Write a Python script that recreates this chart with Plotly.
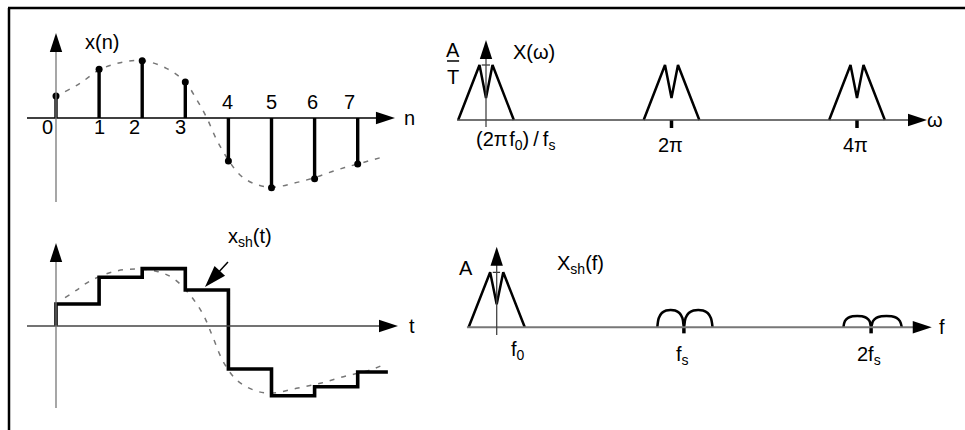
import plotly.graph_objects as go

W, H = 965, 430
FONT = "Liberation Sans, Arial, sans-serif"

# ---- sampled sequence x(n) ----
n_idx = [0, 1, 2, 3, 4, 5, 6, 7]
x_n = [0.314, 0.696, 0.819, 0.514, -0.614, -0.996, -0.867, -0.657]

# underlying analog signal (dashed), upper-left panel
cont_n = [0.21, 0.56, 1.0, 1.49, 2.01, 2.56, 2.99, 3.27, 3.50, 3.73, 4.0,
          4.27, 4.58, 5.0, 5.51, 5.99, 6.51, 7.0, 7.67]
cont_x = [0.376, 0.496, 0.686, 0.79, 0.819, 0.71, 0.519, 0.257, 0.0, -0.314,
          -0.6, -0.814, -0.933, -0.99, -0.933, -0.853, -0.743, -0.657, -0.543]

# analog signal behind the sample-and-hold output, lower-left panel
cont_t = [0.21, 0.48, 0.79, 1.33, 1.87, 2.37, 2.72, 3.11, 3.42, 3.65, 3.88,
          4.19, 4.58, 4.97, 5.58, 6.13, 6.67, 7.29, 7.67]
cont_xt = [0.404, 0.514, 0.643, 0.776, 0.814, 0.776, 0.681, 0.443, 0.157,
           -0.176, -0.51, -0.771, -0.914, -0.961, -0.89, -0.819, -0.724,
           -0.629, -0.533]
hold_end = 7.70

# ---- spectrum of the sampled sequence X(omega), omega in units of pi ----
omega_centers = [0, 2, 4]
lobe_dw = [-0.30, -0.07, 0.0, 0.07, 0.30]
lobe_amp = [0.0, 1.0, 0.4, 1.0, 0.0]
omega_ticks = [2, 4]
omega_tick_text = ["2\u03c0", "4\u03c0"]

# ---- spectrum of the held signal X_sh(f), f in units of fs ----
base_df = [-0.15, -0.035, 0.0, 0.035, 0.15]
base_amp = [0.0, 1.0, 0.418, 1.0, 0.0]
img1_f = [0.858, 0.866, 0.882, 0.905, 0.929, 0.953, 0.976, 0.992, 1.0,
          1.009, 1.026, 1.051, 1.077, 1.102, 1.127, 1.144, 1.153]
img1_a = [0.0, 0.17, 0.26, 0.305, 0.313, 0.305, 0.26, 0.17, 0.0,
          0.17, 0.26, 0.305, 0.313, 0.305, 0.26, 0.17, 0.0]
img2_f = [1.852, 1.86, 1.877, 1.901, 1.926, 1.951, 1.975, 1.992, 2.0,
          2.01, 2.028, 2.055, 2.082, 2.109, 2.136, 2.154, 2.164]
img2_a = [0.0, 0.112, 0.172, 0.201, 0.207, 0.201, 0.172, 0.112, 0.0,
          0.112, 0.172, 0.201, 0.207, 0.201, 0.172, 0.112, 0.0]
f_ticks = [1, 2]
f_tick_text = ["f<sub>s</sub>", "2f<sub>s</sub>"]


def frame(px0, px1, py0, py1, ox, oy, sx, sy):
    """Pixel box + origin/scale -> axis domains and ranges."""
    return dict(
        xd=[px0 / W, px1 / W], yd=[1 - py1 / H, 1 - py0 / H],
        xr=[(px0 - ox) / sx, (px1 - ox) / sx],
        yr=[(oy - py1) / sy, (oy - py0) / sy],
    )


panels = [
    frame(15, 425, 20, 212, 56, 118, 43.1, 70),        # x(n)
    frame(15, 425, 222, 420, 56, 326, 43.1, 70),       # x_sh(t)
    frame(440, 960, 20, 205, 486, 120, 92.75, 55),     # X(omega)
    frame(440, 960, 222, 420, 496.7, 327.3, 187.2, 55),  # X_sh(f)
]

fig = go.Figure()


def ref(k):
    return ("x", "y") if k == 1 else (f"x{k}", f"y{k}")


def add(trace, k):
    xr, yr = ref(k)
    trace.update(xaxis=xr, yaxis=yr, showlegend=False, hoverinfo="skip",
                 cliponaxis=False)
    fig.add_trace(trace)


def arrow(k, x0, y0, x1, y1, color, width, head=20):
    """Line from (x0, y0) with a filled arrowhead at (x1, y1)."""
    add(go.Scatter(x=[x0, x1], y=[y0, y1], mode="lines+markers",
                   line=dict(color=color, width=width),
                   marker=dict(symbol="arrow", size=[0, head],
                               angleref="previous", color="black",
                               opacity=1, line=dict(width=0))), k)


# panel 1: discrete samples
add(go.Scatter(x=cont_n, y=cont_x, mode="lines", line_shape="spline",
               line=dict(color="#777", width=1.5, dash="5px,7px")), 1)
sx, sy = [], []
for n, v in zip(n_idx, x_n):
    sx += [n, n, None]
    sy += [0, v, None]
add(go.Scatter(x=sx, y=sy, mode="lines", line=dict(color="black", width=3.4)), 1)
add(go.Scatter(x=n_idx, y=x_n, mode="markers",
               marker=dict(color="black", size=7)), 1)

# panel 2: zero-order hold staircase
add(go.Scatter(x=cont_t, y=cont_xt, mode="lines", line_shape="spline",
               line=dict(color="#777", width=1.5, dash="5px,7px")), 2)
add(go.Scatter(x=[0] + n_idx + [hold_end], y=[0] + x_n + [x_n[-1]],
               mode="lines", line_shape="hv",
               line=dict(color="black", width=3.6)), 2)

# panel 3: periodic spectrum
mx, my = [], []
for c in omega_centers:
    mx += [c + d for d in lobe_dw] + [None]
    my += lobe_amp + [None]
add(go.Scatter(x=mx, y=my, mode="lines", line=dict(color="black", width=2.5)), 3)
tx, ty = [], []
for t in omega_ticks:
    tx += [t, t, None]
    ty += [0, -0.145, None]
add(go.Scatter(x=tx, y=ty, mode="lines", line=dict(color="black", width=3.5)), 3)
add(go.Scatter(x=[-0.046, 0.043], y=[1.0, 1.0], mode="lines",
               line=dict(color="black", width=1)), 3)

# panel 4: held-signal spectrum
add(go.Scatter(x=base_df, y=base_amp, mode="lines",
               line=dict(color="black", width=2.5)), 4)
add(go.Scatter(x=img1_f, y=img1_a, mode="lines", line_shape="spline",
               line=dict(color="black", width=2.5)), 4)
add(go.Scatter(x=img2_f, y=img2_a, mode="lines", line_shape="spline",
               line=dict(color="black", width=2.5)), 4)
tx, ty = [], []
for t in f_ticks:
    tx += [t, t, None]
    ty += [0, -0.11, None]
add(go.Scatter(x=tx, y=ty, mode="lines", line=dict(color="black", width=3.5)), 4)
add(go.Scatter(x=[-0.021, 0.018], y=[1.0, 1.0], mode="lines",
               line=dict(color="black", width=1)), 4)

# ---- axes, arrows and labels ----
ann = []


def label(k, x, y, text, size=20, xanchor="center"):
    xr, yr = ref(k)
    ann.append(dict(x=x, y=y, xref=xr, yref=yr, text=text, showarrow=False,
                    xanchor=xanchor, yanchor="middle",
                    font=dict(family=FONT, size=size, color="black")))


# panel 1 axes
arrow(1, -0.673, 0, 7.865, 0, "black", 1.5)
arrow(1, 0, -1.2, 0, 1.214, "#777", 1.3)
label(1, 1.067, 1.086, "x(n)")
label(1, 8.21, 0.0, "n")
below_pos = [-0.186, 1.0, 1.83, 2.88]
above_pos = [3.99, 4.99, 5.94, 6.82]
for p, n in zip(below_pos, n_idx[:4]):
    label(1, p, -0.13, str(n))
for p, n in zip(above_pos, n_idx[4:]):
    label(1, p, 0.23, str(n))

# panel 2 axes
arrow(2, -0.673, 0, 7.935, 0, "#444", 1.5)
arrow(2, 0, -1.171, 0, 1.186, "#777", 1.3)
label(2, 8.26, 0.0, "t")
label(2, 4.5, 1.27, "x<sub>sh</sub>(t)")
arrow(2, 3.99, 0.914, 3.457, 0.557, "black", 1.5, head=23)

# panel 3 axes
arrow(3, -0.313, 0, 4.755, 0, "#444", 1.5)
arrow(3, 0, -0.127, 0, 1.455, "#444", 1.3)
label(3, 4.84, 0.0, "\u03c9")
label(3, -0.356, 1.273, "A")
label(3, -0.356, 0.782, "T")
label(3, 0.518, 1.236, "X(\u03c9)")
label(3, 0.323, -0.364,
      "(2\u03c0\u200af<sub>0</sub>)\u2009/\u2009f<sub>s</sub>")
for p, t in zip(omega_ticks, omega_tick_text):
    label(3, p - 0.016, -0.455, t)

# panel 4 axes
arrow(4, -0.159, 0, 2.324, 0, "#777", 2)
arrow(4, 0, -0.14, 0, 1.465, "#444", 1.3)
label(4, 2.379, 0.0, "f")
label(4, -0.164, 1.078, "A")
label(4, 0.45, 1.133, "X<sub>sh</sub>(f)")
label(4, 0.114, -0.413, "f<sub>0</sub>")
for p, t in zip(f_ticks, f_tick_text):
    label(4, p - 0.01, -0.505, t)

layout = dict(
    width=W, height=H, margin=dict(l=0, r=0, t=0, b=0),
    paper_bgcolor="white", plot_bgcolor="rgba(0,0,0,0)",
    annotations=ann, showlegend=False,
    shapes=[
        # outer frame
        dict(type="line", xref="paper", yref="paper", x0=8 / W, x1=1,
             y0=1 - 8 / H, y1=1 - 8 / H, line=dict(color="black", width=2.5)),
        dict(type="line", xref="paper", yref="paper", x0=9 / W, x1=9 / W,
             y0=1 - 8 / H, y1=0, line=dict(color="black", width=2.5)),
        # fraction bar of A/T
        dict(type="line", xref="x3", yref="y3", x0=-0.42, x1=-0.29,
             y0=1.073, y1=1.073, line=dict(color="black", width=1.5)),
    ],
)
for k, p in enumerate(panels, start=1):
    xr, yr = ref(k)
    xa = "xaxis" if k == 1 else f"xaxis{k}"
    ya = "yaxis" if k == 1 else f"yaxis{k}"
    layout[xa] = dict(domain=p["xd"], range=p["xr"], visible=False,
                      fixedrange=True, anchor=yr)
    layout[ya] = dict(domain=p["yd"], range=p["yr"], visible=False,
                      fixedrange=True, anchor=xr)
fig.update_layout(**layout)

fig.write_html("out.html", config=dict(displayModeBar=False))
